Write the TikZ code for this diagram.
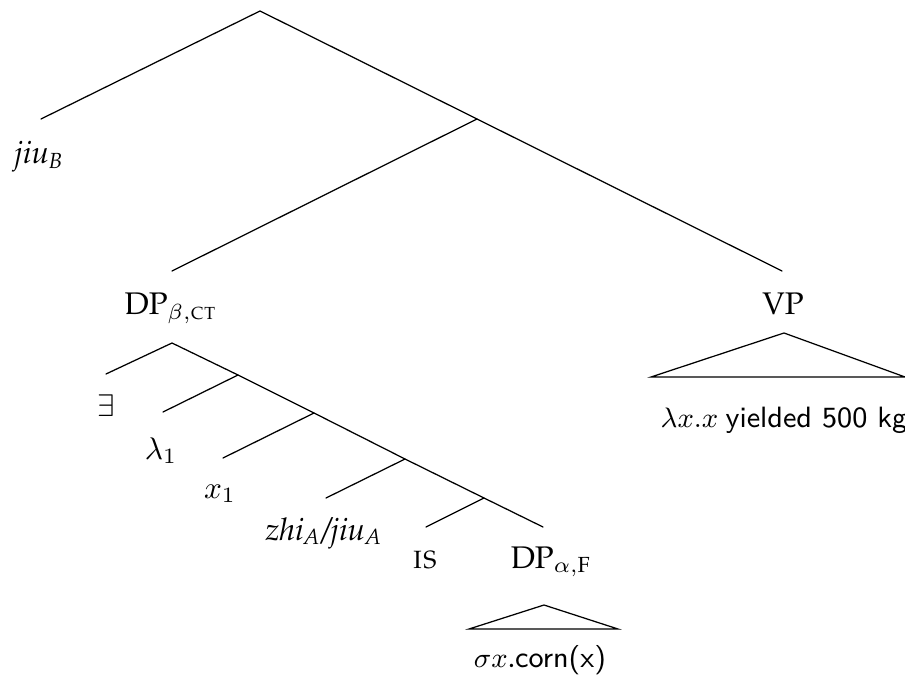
\documentclass[tikz,border=0pt]{standalone}
\usepackage{amsmath}
\usepackage[T1]{fontenc}
\renewcommand\rmdefault{ppl}
\newcommand\sfx[1]{{\fontencoding{TU}\fontfamily{lmss}\selectfont #1}}
\begin{document}
\begin{tikzpicture}[x=0.32pt,y=-0.32pt,
  lbl/.style={anchor=base,inner sep=0pt,font=\fontsize{10}{12}\selectfont},
  sml/.style={anchor=base,inner sep=0pt,font=\fontsize{9.4}{11}\selectfont},
  br/.style={line width=0.4pt,line cap=round}]
\useasboundingbox (0,0) rectangle (905,688);
% tree junctions and branch ends
\coordinate (root) at (260,11);
\coordinate (jiuBt) at (41,119);
\coordinate (n1) at (477,119);
\coordinate (dpbt) at (172,271);
\coordinate (vpt) at (782,271);
\coordinate (dpbb) at (172,343);
\coordinate (ext) at (106,374);
\coordinate (c1) at (238,375);
\coordinate (l1t) at (163,412);
\coordinate (c2) at (314,413);
\coordinate (x1t) at (223,458);
\coordinate (c3) at (405,459);
\coordinate (zhit) at (326,498);
\coordinate (c4) at (484,498);
\coordinate (ist) at (426,527);
\coordinate (dpat) at (543,527);
\coordinate (ta) at (544,605);
\coordinate (tal) at (469,629);
\coordinate (tar) at (618,629);
\coordinate (tv) at (784,333);
\coordinate (tvl) at (651,377);
\coordinate (tvr) at (905,377);
% labels
\node[lbl] (jiuB) at (39,164) {\textit{jiu}$_{\textit{B}}$};
\node[lbl] (dpb) at (171,315) {DP$_{\beta,\textsc{ct}}$};
\node[lbl] (vp) at (783,315) {VP};
\node[lbl] (ex) at (106,416) {$\exists$};
\node[lbl] (lam) at (161,459) {$\lambda_1$};
\node[lbl] (xone) at (220,498) {$x_1$};
\node[lbl] (zhi) at (324,540) {\textit{zhi}$_{\textit{A}}$\textit{/jiu}$_{\textit{A}}$};
\node[lbl] (is) at (425,568) {\textsc{is}};
\node[lbl] (dpa) at (551,568) {DP$_{\alpha,\text{F}}$};
\node[sml] (sig) at (540,667) {$\sigma x$.\sfx{corn(x)}};
\node[sml] (yl) at (784,427) {$\lambda x.x$ \sfx{yielded 500 kg}};
% branches
\draw[br] (jiuBt) -- (root) -- (n1) -- (vpt);
\draw[br] (n1) -- (dpbt);
\draw[br] (ext) -- (dpbb) -- (c1) -- (c2) -- (c3) -- (c4) -- (dpat);
\draw[br] (c1) -- (l1t);
\draw[br] (c2) -- (x1t);
\draw[br] (c3) -- (zhit);
\draw[br] (c4) -- (ist);
\draw[br] (tal) -- (ta) -- (tar) -- cycle;
\draw[br] (tvl) -- (tv) -- (tvr) -- cycle;
\end{tikzpicture}
\end{document}
